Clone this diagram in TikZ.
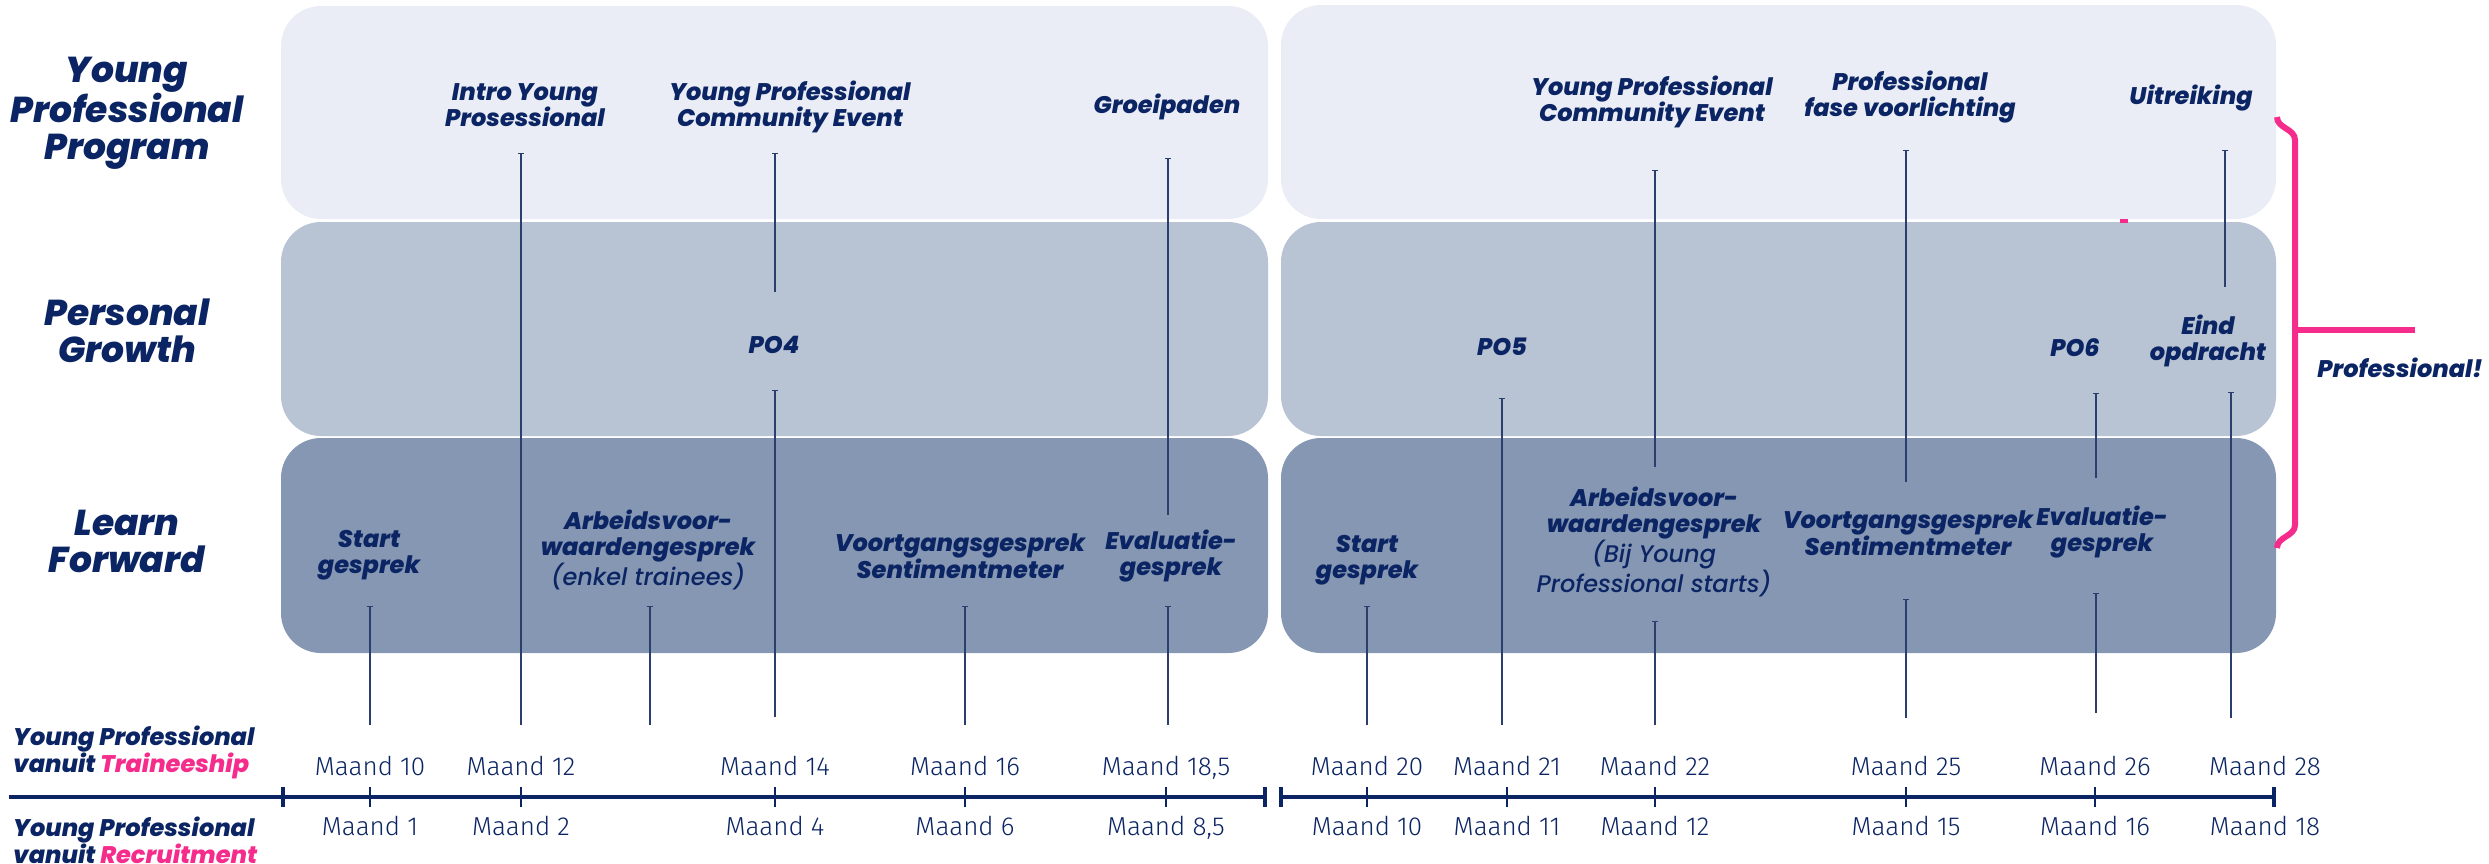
\documentclass[tikz,border=0pt]{standalone}
\usepackage{fontspec}
\setmainfont{Poppins}[BoldItalicFont={Poppins ExtraBold Italic}, ItalicFont={Poppins Medium Italic}]
\newfontfamily\monthfont{Fira Sans Light}
\usetikzlibrary{positioning,arrows.meta}

\definecolor{navy}{HTML}{0B2463}
\definecolor{stemcol}{HTML}{2B3F6E}
\definecolor{bandA}{HTML}{EAEDF5}
\definecolor{bandB}{HTML}{B8C3D4}
\definecolor{bandC}{HTML}{8597B2}
\definecolor{hotpink}{HTML}{F52C8C}

\newcommand{\evtfont}{\bfseries\itshape\fontsize{24}{26.5}\selectfont}
\newcommand{\lanefont}{\bfseries\itshape\fontsize{36}{37}\selectfont}
\newcommand{\sidefont}{\bfseries\itshape\fontsize{24}{27}\selectfont}

\tikzset{
  band/.style={rounded corners=40pt},
  evt/.style={font=\evtfont, text=navy, align=center, inner sep=0pt},
  lane/.style={font=\lanefont, text=navy, align=center, inner sep=0pt},
  side/.style={font=\sidefont, text=navy, align=left, inner sep=0pt, anchor=west},
  month/.style={font=\monthfont\fontsize{26}{28}\selectfont, text=navy, inner sep=0pt, text height=19pt, text depth=0pt},
  stem/.style={draw=stemcol, line width=1.3pt, {Bar[width=6pt,line width=1pt]}-},
  axis/.style={draw=navy, line width=4pt},
  major/.style={draw=navy, line width=4pt},
  minor/.style={draw=navy, line width=1.2pt},
  brace/.style={draw=hotpink, line width=6pt}
}

\begin{document}
\begin{tikzpicture}[x=1pt, y=-1pt, node distance=20pt]
\useasboundingbox (0,0) rectangle (2489,863);

\fill[bandA, band] (281,6) rectangle (1268,219);
\fill[bandB, band] (281,222) rectangle (1268,436);
\fill[bandC, band] (281,438) rectangle (1268,653);
\fill[bandA, band] (1281,5) rectangle (2276,219);
\fill[bandB, band] (1281,222) rectangle (2276,436);
\fill[bandC, band] (1281,438) rectangle (2276,653);
\fill[hotpink] (2120,219) rectangle (2128,223);

\node[lane] (ypp) at (127,113) {Young\\Professional\\Program};
\node[lane] (pg) at (127,331) {Personal\\Growth};
\node[lane] (lf) at (127,541) {Learn\\Forward};

\node[evt] (intro) at (525,105) {Intro Young\\Prosessional};
\node[evt] (commL) at (790,107) {Young Professional\\Community Event};
\node[evt] (groei) at (1167,107) {Groeipaden};
\node[evt] (commR) at (1652,102) {Young Professional\\Community Event};
\node[evt] (profR) at (1910,97) {Professional\\fase voorlichting};
\node[evt] (uitr) at (2191,98) {Uitreiking};

\node[evt] (po4) at (774,345) {PO4};
\node[evt] (po5) at (1502,347) {PO5};
\node[evt] (po6) at (2075,348) {PO6};
\node[evt] (eind) at (2208,341) {Eind\\opdracht};

\node[evt] (startL) at (369,555) {Start\\gesprek};
\node[evt] (arbL) at (648,550) {Arbeidsvoor-\\waardengesprek\\{\mdseries (enkel trainees)}};
\node[evt] (voortL) at (960,556) {Voortgangsgesprek\\Sentimentmeter};
\node[evt] (evalL) at (1171,556) {Evaluatie-\\gesprek};
\node[evt] (startR) at (1367,560) {Start\\gesprek};
\node[evt] (arbR) at (1654,542) {Arbeidsvoor-\\waardengesprek\\{\mdseries (Bij Young}\\{\mdseries Professional starts)}};
\node[evt] (voortR) at (1908,533) {Voortgangsgesprek\\Sentimentmeter};
\node[evt] (evalR) at (2102,532) {Evaluatie-\\gesprek};

\coordinate (startL-a) at (370,606);
\coordinate (startL-b) at (370,725);
\coordinate (intro-a) at (521,153);
\coordinate (intro-b) at (521,725);
\coordinate (arbL-a) at (650,606);
\coordinate (arbL-b) at (650,725);
\coordinate (commL-a) at (775,153);
\coordinate (commL-b) at (775,292);
\coordinate (po4-a) at (775,390);
\coordinate (po4-b) at (775,717);
\coordinate (voortL-a) at (965,606);
\coordinate (voortL-b) at (965,725);
\coordinate (groei-a) at (1168,158);
\coordinate (groei-b) at (1168,515);
\coordinate (evalL-a) at (1168,606);
\coordinate (evalL-b) at (1168,725);
\coordinate (startR-a) at (1367,606);
\coordinate (startR-b) at (1367,725);
\coordinate (po5-a) at (1502,398);
\coordinate (po5-b) at (1502,725);
\coordinate (commR-a) at (1655,170);
\coordinate (commR-b) at (1655,467);
\coordinate (arbR-a) at (1655,621);
\coordinate (arbR-b) at (1655,725);
\coordinate (profR-a) at (1906,150);
\coordinate (profR-b) at (1906,482);
\coordinate (voortR-a) at (1906,599);
\coordinate (voortR-b) at (1906,718);
\coordinate (po6-a) at (2096,393);
\coordinate (po6-b) at (2096,478);
\coordinate (evalR-a) at (2096,593);
\coordinate (evalR-b) at (2096,713);
\coordinate (uitr-a) at (2225,150);
\coordinate (uitr-b) at (2225,287);
\coordinate (eind-a) at (2231,392);
\coordinate (eind-b) at (2231,718);

\draw[stem] (startL-a) -- (startL-b);
\draw[stem] (intro-a) -- (intro-b);
\draw[stem] (arbL-a) -- (arbL-b);
\draw[stem] (commL-a) -- (commL-b);
\draw[stem] (po4-a) -- (po4-b);
\draw[stem] (voortL-a) -- (voortL-b);
\draw[stem] (groei-a) -- (groei-b);
\draw[stem] (evalL-a) -- (evalL-b);
\draw[stem] (startR-a) -- (startR-b);
\draw[stem] (po5-a) -- (po5-b);
\draw[stem] (commR-a) -- (commR-b);
\draw[stem] (arbR-a) -- (arbR-b);
\draw[stem] (profR-a) -- (profR-b);
\draw[stem] (voortR-a) -- (voortR-b);
\draw[stem] (po6-a) -- (po6-b);
\draw[stem] (evalR-a) -- (evalR-b);
\draw[stem] (uitr-a) -- (uitr-b);
\draw[stem] (eind-a) -- (eind-b);

\coordinate (br-top) at (2277,117);
\coordinate (br-a) at (2295,140);
\coordinate (br-b) at (2295,525);
\coordinate (br-bot) at (2277,548);
\coordinate (br-mid) at (2295,330);
\coordinate (br-arm) at (2415,330);
\draw[brace] (br-top) to[out=-90,in=90] (br-a) -- (br-b) to[out=-90,in=90] (br-bot);
\draw[brace] (br-mid) -- (br-arm);
\node[evt] (prof) at (2400,368) {Professional!};

\node[side] (trainee) at (13,752) {Young Professional\\vanuit {\color{hotpink}Traineeship}};
\node[side] (recruit) at (13,840) {Young Professional\\vanuit {\color{hotpink}Recruitment}};

\coordinate (axL) at (9,797);
\coordinate (ax0) at (283,797);
\coordinate (axM1) at (1265,797);
\coordinate (axM2) at (1281,797);
\coordinate (axR) at (2274,797);
\draw[axis] (axL) -- (axM1);
\draw[axis] (axM2) -- (axR);
\draw[major] ([yshift=10pt]ax0) -- ([yshift=-10pt]ax0);
\draw[major] ([yshift=10pt]axM1) -- ([yshift=-10pt]axM1);
\draw[major] ([yshift=10pt]axM2) -- ([yshift=-10pt]axM2);
\draw[major] ([yshift=10pt]axR) -- ([yshift=-10pt]axR);

\coordinate (t1) at (370,797);
\coordinate (t2) at (521,797);
\coordinate (t3) at (775,797);
\coordinate (t4) at (965,797);
\coordinate (t5) at (1166,797);
\coordinate (t6) at (1367,797);
\coordinate (t7) at (1507,797);
\coordinate (t8) at (1655,797);
\coordinate (t9) at (1906,797);
\coordinate (t10) at (2095,797);
\coordinate (t11) at (2265,797);

\draw[minor] ([yshift=10pt]t1) -- ([yshift=-10pt]t1);
\draw[minor] ([yshift=10pt]t2) -- ([yshift=-10pt]t2);
\draw[minor] ([yshift=10pt]t3) -- ([yshift=-10pt]t3);
\draw[minor] ([yshift=10pt]t4) -- ([yshift=-10pt]t4);
\draw[minor] ([yshift=10pt]t5) -- ([yshift=-10pt]t5);
\draw[minor] ([yshift=10pt]t6) -- ([yshift=-10pt]t6);
\draw[minor] ([yshift=10pt]t7) -- ([yshift=-10pt]t7);
\draw[minor] ([yshift=10pt]t8) -- ([yshift=-10pt]t8);
\draw[minor] ([yshift=10pt]t9) -- ([yshift=-10pt]t9);
\draw[minor] ([yshift=10pt]t10) -- ([yshift=-10pt]t10);

\node[month, above=21pt of t1] (m10) {Maand 10};
\node[month, above=21pt of t2] (m12) {Maand 12};
\node[month, above=21pt of t3] (m14) {Maand 14};
\node[month, above=21pt of t4] (m16) {Maand 16};
\node[month, above=21pt of t5] (m185) {Maand 18,5};
\node[month, above=21pt of t6] (m20) {Maand 20};
\node[month, above=21pt of t7] (m21) {Maand 21};
\node[month, above=21pt of t8] (m22) {Maand 22};
\node[month, above=21pt of t9] (m25) {Maand 25};
\node[month, above=21pt of t10] (m26) {Maand 26};
\node[month, above=21pt of t11] (m28) {Maand 28};

\node[month, below=19pt of t1] (r1) {Maand 1};
\node[month, below=19pt of t2] (r2) {Maand 2};
\node[month, below=19pt of t3] (r4) {Maand 4};
\node[month, below=19pt of t4] (r6) {Maand 6};
\node[month, below=19pt of t5] (r85) {Maand 8,5};
\node[month, below=19pt of t6] (r10) {Maand 10};
\node[month, below=19pt of t7] (r11) {Maand 11};
\node[month, below=19pt of t8] (r12) {Maand 12};
\node[month, below=19pt of t9] (r15) {Maand 15};
\node[month, below=19pt of t10] (r16) {Maand 16};
\node[month, below=19pt of t11] (r18) {Maand 18};

\end{tikzpicture}
\end{document}
